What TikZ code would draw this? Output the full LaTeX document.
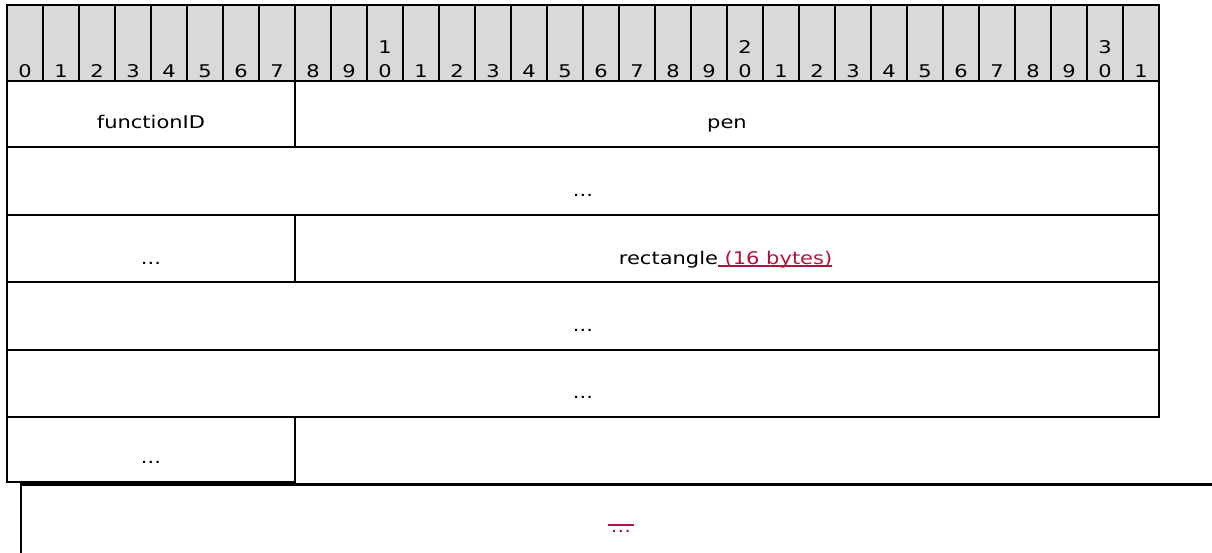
\documentclass[tikz,border=0pt]{standalone}
\usepackage{fontspec}
\setmainfont{DejaVu Sans}[FakeStretch=1.2]
\definecolor{hdrgray}{RGB}{217,217,217}
\definecolor{linkred}{RGB}{181,16,62}
\tikzset{
  every node/.style={font=\fontsize{17.5}{20}\selectfont, inner sep=0pt, outer sep=0pt},
  hdrcell/.style={draw=black, line width=2pt, fill=hdrgray, minimum width=36pt, minimum height=76pt, anchor=north west},
  fieldcell/.style={draw=black, line width=2.5pt, anchor=north west},
  txt/.style={anchor=base, text=black},
  linktxt/.style={anchor=base, text=linkred},
  linkline/.style={draw=linkred, line width=1.8pt},
}
\begin{document}
\begin{tikzpicture}[x=1pt, y=-1pt]
\useasboundingbox (0,0) rectangle (1212,552);
\clip (0,0) rectangle (1212,552);
\fill[white] (0,0) rectangle (1212,552);
% header
\foreach \i in {0,...,31} {
  \pgfmathtruncatemacro{\lo}{mod(\i,10)}
  \pgfmathtruncatemacro{\hi}{int(\i/10)}
  \node[hdrcell] (h\i) at ({7+36*\i},5) {};
  \node[txt] (d\i) at ({25+36*\i},77) {\lo};
  \ifnum\lo=0 \ifnum\i>0
    \node[txt] (t\i) at ({25+36*\i},53.5) {\hi};
  \fi\fi
}
% row 1
\node[fieldcell, minimum width=288pt, minimum height=66pt] (c1a) at (7,81) {};
\node[fieldcell, minimum width=864pt, minimum height=66pt] (c1b) at (295,81) {};
\node[txt] (l1a) at (151,128) {functionID};
\node[txt] (l1b) at (727,128) {pen};
% row 2
\node[fieldcell, minimum width=1152pt, minimum height=68pt] (c2) at (7,147) {};
\node[txt] (l2) at (583,196) {...};
% row 3
\node[fieldcell, minimum width=288pt, minimum height=67pt] (c3a) at (7,215) {};
\node[fieldcell, minimum width=864pt, minimum height=67pt] (c3b) at (295,215) {};
\node[txt] (l3a) at (151,264) {...};
\node[txt, anchor=base east] (l3b) at (718,264) {rectangle};
\node[linktxt, anchor=base west] (l3c) at (l3b.base east) {\ (16 bytes)};
\coordinate (ul1) at ([yshift=-2pt]l3c.base west);
\coordinate (ul2) at ([yshift=-2pt]l3c.base east);
\draw[linkline] (ul1) -- (ul2);
% row 4
\node[fieldcell, minimum width=1152pt, minimum height=68pt] (c4) at (7,282) {};
\node[txt] (l4) at (583,331) {...};
% row 5
\node[fieldcell, minimum width=1152pt, minimum height=67pt] (c5) at (7,350) {};
\node[txt] (l5) at (583,398) {...};
% row 6
\node[fieldcell, minimum width=288pt, minimum height=65pt] (c6a) at (7,417) {};
\node[txt] (l6a) at (151,463) {...};
% last row (extends past the picture)
\node[fieldcell, minimum width=1220pt, minimum height=120pt] (c7) at (21,484.5) {};
\node[linktxt] (l7) at (621,532) {...};
\coordinate (ol1) at ([xshift=-3pt,yshift=5pt]l7.north west);
\coordinate (ol2) at ([xshift=3pt,yshift=5pt]l7.north east);
\draw[linkline] (ol1) -- (ol2);
\end{tikzpicture}
\end{document}
